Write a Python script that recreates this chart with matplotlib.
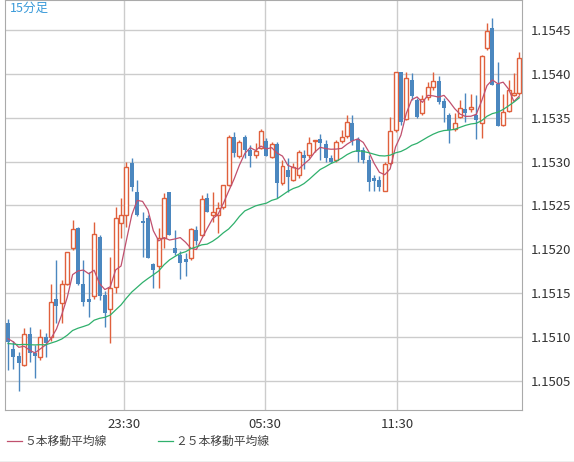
import matplotlib.pyplot as plt
import numpy as np
import pandas as pd

plt.rcParams['font.family'] = ['Noto Sans CJK JP', 'DejaVu Sans']

# 15-minute candles (prices)
opens = [1.15116, 1.15087, 1.15079, 1.15068, 1.15103, 1.15082, 1.15077, 1.15100, 1.15100, 1.15144,
         1.15139, 1.15161, 1.15202, 1.15224, 1.15161, 1.15143, 1.15147, 1.15214, 1.15148, 1.15132,
         1.15157, 1.15230, 1.15239, 1.15298, 1.15265, 1.15232, 1.15236, 1.15183, 1.15181, 1.15213,
         1.15265, 1.15201, 1.15193, 1.15189, 1.15190, 1.15222, 1.15216, 1.15259, 1.15239, 1.15239,
         1.15248, 1.15273, 1.15328, 1.15306, 1.15328, 1.15313, 1.15307, 1.15315, 1.15323, 1.15305,
         1.15320, 1.15275, 1.15290, 1.15279, 1.15285, 1.15308, 1.15308, 1.15323, 1.15326, 1.15320,
         1.15304, 1.15302, 1.15323, 1.15329, 1.15344, 1.15326, 1.15313, 1.15302, 1.15281, 1.15279,
         1.15267, 1.15298, 1.15336, 1.15402, 1.15348, 1.15393, 1.15370, 1.15355, 1.15373, 1.15385,
         1.15392, 1.15369, 1.15353, 1.15337, 1.15351, 1.15360, 1.15360, 1.15353, 1.15344, 1.15429,
         1.15452, 1.15388, 1.15342, 1.15358, 1.15376, 1.15378]
highs = [1.15121, 1.15096, 1.15083, 1.15110, 1.15111, 1.15091, 1.15109, 1.15105, 1.15160, 1.15188,
         1.15165, 1.15193, 1.15233, 1.15226, 1.15188, 1.15174, 1.15231, 1.15216, 1.15153, 1.15191,
         1.15248, 1.15259, 1.15299, 1.15304, 1.15279, 1.15242, 1.15239, 1.15185, 1.15224, 1.15264,
         1.15265, 1.15222, 1.15198, 1.15196, 1.15224, 1.15227, 1.15262, 1.15264, 1.15265, 1.15254,
         1.15273, 1.15330, 1.15334, 1.15324, 1.15330, 1.15319, 1.15321, 1.15337, 1.15327, 1.15322,
         1.15322, 1.15302, 1.15304, 1.15298, 1.15313, 1.15313, 1.15328, 1.15324, 1.15331, 1.15324,
         1.15307, 1.15324, 1.15336, 1.15353, 1.15353, 1.15328, 1.15316, 1.15307, 1.15285, 1.15283,
         1.15299, 1.15351, 1.15402, 1.15402, 1.15402, 1.15401, 1.15372, 1.15376, 1.15391, 1.15402,
         1.15397, 1.15372, 1.15355, 1.15355, 1.15370, 1.15378, 1.15377, 1.15376, 1.15421, 1.15458,
         1.15464, 1.15413, 1.15377, 1.15393, 1.15401, 1.15425]
lows = [1.15062, 1.15064, 1.15039, 1.15067, 1.15072, 1.15054, 1.15074, 1.15077, 1.15096, 1.15116,
        1.15116, 1.15159, 1.15199, 1.15159, 1.15136, 1.15123, 1.15144, 1.15142, 1.15111, 1.15093,
        1.15150, 1.15213, 1.15225, 1.15267, 1.15238, 1.15191, 1.15190, 1.15156, 1.15156, 1.15202,
        1.15216, 1.15193, 1.15166, 1.15170, 1.15188, 1.15205, 1.15215, 1.15242, 1.15231, 1.15219,
        1.15246, 1.15272, 1.15305, 1.15304, 1.15304, 1.15294, 1.15304, 1.15314, 1.15306, 1.15304,
        1.15259, 1.15273, 1.15265, 1.15278, 1.15281, 1.15292, 1.15304, 1.15311, 1.15302, 1.15299,
        1.15298, 1.15299, 1.15321, 1.15327, 1.15319, 1.15299, 1.15298, 1.15267, 1.15267, 1.15267,
        1.15266, 1.15296, 1.15334, 1.15342, 1.15347, 1.15370, 1.15350, 1.15353, 1.15370, 1.15381,
        1.15365, 1.15345, 1.15321, 1.15335, 1.15350, 1.15345, 1.15356, 1.15326, 1.15327, 1.15427,
        1.15387, 1.15340, 1.15340, 1.15356, 1.15375, 1.15376]
closes = [1.15094, 1.15077, 1.15070, 1.15103, 1.15082, 1.15078, 1.15100, 1.15093, 1.15140, 1.15135,
          1.15161, 1.15197, 1.15223, 1.15161, 1.15140, 1.15140, 1.15217, 1.15147, 1.15127, 1.15156,
          1.15236, 1.15239, 1.15294, 1.15271, 1.15239, 1.15230, 1.15190, 1.15176, 1.15213, 1.15258,
          1.15216, 1.15196, 1.15184, 1.15186, 1.15223, 1.15210, 1.15257, 1.15242, 1.15242, 1.15247,
          1.15273, 1.15328, 1.15310, 1.15322, 1.15313, 1.15306, 1.15312, 1.15335, 1.15306, 1.15320,
          1.15275, 1.15295, 1.15282, 1.15294, 1.15311, 1.15304, 1.15321, 1.15324, 1.15321, 1.15304,
          1.15300, 1.15322, 1.15328, 1.15345, 1.15323, 1.15311, 1.15302, 1.15277, 1.15278, 1.15271,
          1.15297, 1.15335, 1.15402, 1.15345, 1.15395, 1.15375, 1.15351, 1.15371, 1.15385, 1.15392,
          1.15368, 1.15361, 1.15336, 1.15344, 1.15361, 1.15355, 1.15362, 1.15347, 1.15420, 1.15449,
          1.15387, 1.15340, 1.15356, 1.15381, 1.15378, 1.15418]
# closes before the visible window (for the 25-bar average)
prior_closes = [1.15092, 1.15088, 1.15095, 1.15090, 1.15085, 1.15093, 1.15097, 1.15089, 1.15086, 1.15094,
                1.15091, 1.15088, 1.15096, 1.15092, 1.15087, 1.15090, 1.15094, 1.15098, 1.15093, 1.15089,
                1.15095, 1.15101, 1.15097, 1.15104]
tick_pos = [21.6, 47.8, 72.3]
tick_labels = ['23:30', '05:30', '11:30']
y_ticks = [1.1505, 1.1510, 1.1515, 1.1520, 1.1525, 1.1530, 1.1535, 1.1540, 1.1545]

UP = '#e0603c'
DOWN = '#4b87bf'
MA5_C = '#c0506e'
MA25_C = '#2fb06c'

fig = plt.figure(figsize=(5.74, 4.62), dpi=100)
ax = fig.add_axes([5 / 574, 52 / 462, 517 / 574, 410 / 462])

x = np.arange(len(closes))
o = np.array(opens); h = np.array(highs); l = np.array(lows); c = np.array(closes)
up = c >= o
w = 0.74
ax.vlines(x[up], l[up], h[up], color=UP, lw=1, zorder=2)
ax.vlines(x[~up], l[~up], h[~up], color=DOWN, lw=1, zorder=2)
ax.bar(x[up], c[up] - o[up], bottom=o[up], width=w, facecolor='white', edgecolor=UP, lw=1, zorder=3)
ax.bar(x[~up], o[~up] - c[~up], bottom=c[~up], width=w, color=DOWN, lw=0, zorder=3)

allc = pd.Series(prior_closes + closes)
ma5 = allc.rolling(5).mean().iloc[len(prior_closes):]
ma25 = allc.rolling(25).mean().iloc[len(prior_closes):]
ax.plot(x, ma5.values, color=MA5_C, lw=0.9, zorder=4)
ax.plot(x, ma25.values, color=MA25_C, lw=0.9, zorder=4)

ax.set_xlim(-0.56, 95.5)
ax.set_ylim(1.15017, 1.15484)
ax.set_xticks(tick_pos)
ax.set_xticklabels(tick_labels)
ax.set_yticks(y_ticks)
ax.set_yticklabels([f'{v:.4f}' for v in y_ticks])
ax.yaxis.tick_right()
ax.tick_params(length=0, labelsize=9.5, colors='#333333', pad=6)
ax.grid(True, color='#cccccc', lw=1)
ax.set_axisbelow(True)
for s in ax.spines.values():
    s.set_color('#aaaaaa')
ax.text(0.01, 0.995, '15分足', transform=ax.transAxes, color='#3a9ad9', fontsize=9, va='top', ha='left')

# legend under the chart
fig.add_artist(plt.Line2D([0.012, 0.038], [21 / 462] * 2, color=MA5_C, lw=0.9))
fig.text(0.042, 21 / 462, '５本移動平均線', fontsize=8.5, color='#444444', va='center')
fig.add_artist(plt.Line2D([0.275, 0.301], [21 / 462] * 2, color=MA25_C, lw=0.9))
fig.text(0.305, 21 / 462, '２５本移動平均線', fontsize=8.5, color='#444444', va='center')
fig.add_artist(plt.Line2D([0, 1], [0.5 / 462] * 2, color='#aaaaaa', lw=1))

fig.savefig('out.png', dpi=100)
